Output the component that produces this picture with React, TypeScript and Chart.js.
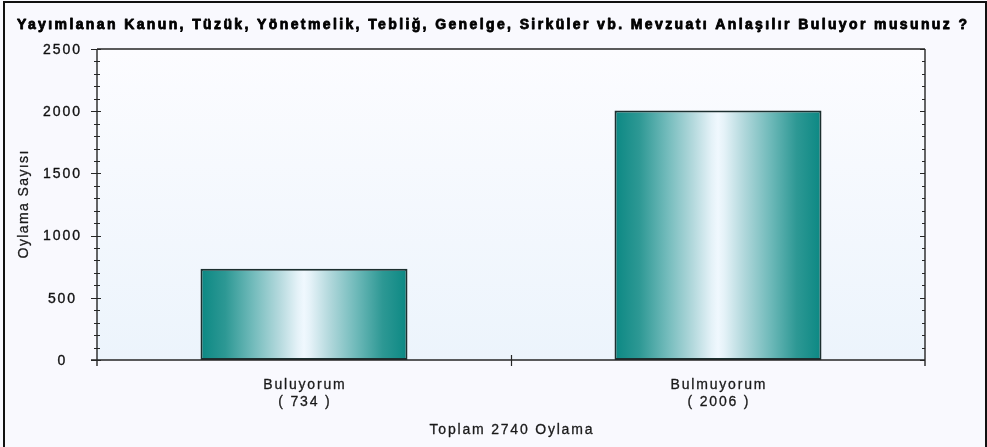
import React, { useEffect, useRef } from 'react';
import { Chart, registerables } from 'chart.js';

Chart.register(...registerables);

const TITLE = 'Yayımlanan Kanun, Tüzük, Yönetmelik, Tebliğ, Genelge, Sirküler vb. Mevzuatı Anlaşılır Buluyor musunuz ?';
const CATEGORIES = ['Buluyorum', 'Bulmuyorum'];
const VOTES = [734, 2006];
const Y_TICKS = [0, 500, 1000, 1500, 2000, 2500];
const Y_MINOR_STEP = 100;
const Y_TITLE = 'Oylama Sayısı';
const TOTAL = VOTES.reduce((s, v) => s + v, 0);
const X_TITLE = `Toplam ${TOTAL} Oylama`;

const W = 987;
const H = 447;
const FONT = '"Liberation Sans", Arial, sans-serif';

function spacedText(ctx: CanvasRenderingContext2D, text: string, x: number, y: number, spacing: number, weight = 0) {
  (ctx as any).letterSpacing = spacing + 'px';
  const px = x + (ctx.textAlign === 'center' ? spacing / 2 : 0);
  ctx.fillText(text, px, y);
  if (weight > 0) {
    ctx.lineWidth = weight;
    ctx.strokeStyle = ctx.fillStyle as string;
    ctx.lineJoin = 'round';
    ctx.strokeText(text, px, y);
  }
  (ctx as any).letterSpacing = '0px';
}

const decor = {
  id: 'decor',
  beforeDraw(chart: any) {
    const { ctx, chartArea: a } = chart;
    ctx.save();
    ctx.fillStyle = '#f9f9fe';
    ctx.fillRect(0, 0, W, H);
    const g = ctx.createLinearGradient(0, a.top, 0, a.bottom);
    g.addColorStop(0, '#fcfcff');
    g.addColorStop(1, '#ecf4fc');
    ctx.fillStyle = g;
    ctx.fillRect(a.left, a.top, a.right - a.left, a.bottom - a.top);
    // outer frame
    ctx.strokeStyle = '#111';
    ctx.lineWidth = 2;
    ctx.beginPath();
    ctx.moveTo(4, H);
    ctx.lineTo(4, 2);
    ctx.lineTo(986, 2);
    ctx.lineTo(986, H);
    ctx.stroke();
    // title
    ctx.fillStyle = '#000';
    ctx.font = `bold 14px ${FONT}`;
    ctx.textAlign = 'left';
    ctx.textBaseline = 'alphabetic';
    const plain = ctx.measureText(TITLE).width;
    const target = 967 - 17;
    const sp = (target - plain) / (TITLE.length - 1);
    spacedText(ctx, TITLE, 17, 28.5, sp, 0.8);
    ctx.restore();
  },
  afterDatasetsDraw(chart: any) {
    const { ctx, chartArea: a, scales } = chart;
    const ys = scales.y;
    const xs = scales.x;
    ctx.save();
    ctx.strokeStyle = '#262626';
    ctx.lineWidth = 1.4;
    // plot frame
    ctx.beginPath();
    ctx.moveTo(a.left - 6, a.bottom);
    ctx.lineTo(a.right, a.bottom);
    ctx.moveTo(a.left, a.top);
    ctx.lineTo(a.right, a.top);
    ctx.moveTo(a.left, a.top);
    ctx.lineTo(a.left, a.bottom + 6);
    ctx.moveTo(a.right, a.top);
    ctx.lineTo(a.right, a.bottom + 6);
    ctx.stroke();
    // y ticks
    const max = Y_TICKS[Y_TICKS.length - 1];
    ctx.lineWidth = 1.2;
    ctx.beginPath();
    for (let v = 0; v <= max; v += Y_MINOR_STEP) {
      const py = Math.round(ys.getPixelForValue(v)) + 0.5;
      const major = Y_TICKS.includes(v);
      ctx.moveTo(a.left - (major ? 6 : 3), py);
      ctx.lineTo(a.left + (major ? 4 : 3), py);
      ctx.moveTo(a.right - (major ? 5 : 3), py);
      ctx.lineTo(a.right, py);
    }
    // x category boundary ticks
    for (let i = 0; i < CATEGORIES.length - 1; i++) {
      const px = Math.round((xs.getPixelForValue(i) + xs.getPixelForValue(i + 1)) / 2) + 0.5;
      ctx.moveTo(px, a.bottom - 5);
      ctx.lineTo(px, a.bottom + 6);
    }
    ctx.stroke();
    // y labels
    ctx.fillStyle = '#111111';
    ctx.font = `14px ${FONT}`;
    ctx.textAlign = 'center';
    ctx.textBaseline = 'middle';
    Y_TICKS.forEach((v) => {
      spacedText(ctx, String(v), 61.5, ys.getPixelForValue(v) + 1, 1.9, 0.35);
    });
    // category labels
    ctx.fillStyle = '#1a1a1a';
    ctx.textBaseline = 'alphabetic';
    CATEGORIES.forEach((c, i) => {
      const px = xs.getPixelForValue(i);
      spacedText(ctx, c, px, 388.5, 1.8, 0.3);
      spacedText(ctx, `( ${VOTES[i]} )`, px, 405.5, 1.8, 0.3);
    });
    // x title
    spacedText(ctx, X_TITLE, (a.left + a.right) / 2, 433.5, 1.8, 0.3);
    // y title
    ctx.save();
    ctx.translate(27.5, (a.top + a.bottom) / 2);
    ctx.rotate(-Math.PI / 2);
    ctx.textAlign = 'center';
    ctx.textBaseline = 'alphabetic';
    spacedText(ctx, Y_TITLE, 0, 0, 1.4, 0.3);
    ctx.restore();
    ctx.restore();
  },
};

export default function App() {
  const ref = useRef<HTMLCanvasElement | null>(null);
  useEffect(() => {
    document.body.style.margin = '0';
    const canvas = ref.current!;
    const chart = new Chart(canvas, {
      type: 'bar',
      data: {
        labels: CATEGORIES,
        datasets: [
          {
            data: VOTES,
            backgroundColor: (c: any) => {
              const ch = c.chart;
              const xs = ch.scales && ch.scales.x;
              if (!xs || c.dataIndex === undefined || !xs.width) return '#0e8a86';
              const cx = xs.getPixelForValue(c.dataIndex);
              const half = (xs.width / CATEGORIES.length) * 0.25;
              const g = ch.ctx.createLinearGradient(cx - half, 0, cx + half, 0);
              g.addColorStop(0, '#0b8883');
              g.addColorStop(0.12, '#2d9894');
              g.addColorStop(0.25, '#70baba');
              g.addColorStop(0.38, '#b4d9dd');
              g.addColorStop(0.47, '#e5f2f8');
              g.addColorStop(0.5, '#f0f8fe');
              g.addColorStop(0.53, '#e5f2f8');
              g.addColorStop(0.62, '#b4d9dd');
              g.addColorStop(0.75, '#70baba');
              g.addColorStop(0.88, '#2d9894');
              g.addColorStop(1, '#0b8883');
              return g;
            },
            borderColor: '#1c2f2f',
            borderWidth: 2,
            borderSkipped: false,
            barPercentage: 0.5,
            categoryPercentage: 1,
          },
        ],
      },
      options: {
        responsive: false,
        animation: false,
        devicePixelRatio: 1,
        layout: { padding: { left: 0, top: 49, right: W - 925, bottom: 0 } },
        plugins: {
          legend: { display: false },
          title: { display: false },
          tooltip: { enabled: false },
        },
        scales: {
          x: {
            type: 'category',
            grid: { display: false },
            border: { display: false },
            ticks: { display: false },
            afterFit: (s: any) => {
              s.height = H - 360;
            },
          },
          y: {
            min: Y_TICKS[0],
            max: Y_TICKS[Y_TICKS.length - 1],
            grid: { display: false },
            border: { display: false },
            ticks: { display: false, stepSize: 500 },
            afterFit: (s: any) => {
              s.width = 97;
            },
          },
        },
      },
      plugins: [decor],
    });
    return () => chart.destroy();
  }, []);
  return (
    <div style={{ position: 'absolute', left: 0, top: 0, width: W, height: H }}>
      <canvas ref={ref} width={W} height={H} style={{ width: W, height: H, display: 'block' }} />
    </div>
  );
}
